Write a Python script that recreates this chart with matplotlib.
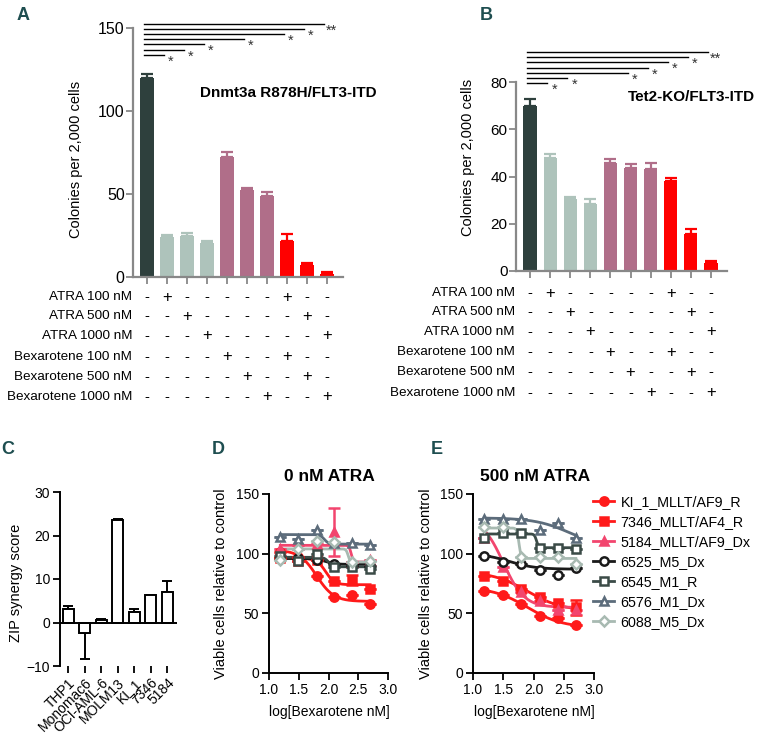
import matplotlib
matplotlib.use('Agg')
import matplotlib.pyplot as plt
import matplotlib.transforms as mtransforms
from matplotlib.lines import Line2D
import numpy as np

plt.rcParams['font.family'] = ['Liberation Sans', 'DejaVu Sans']

# ---------------------------------------------------------------------------
# DATA
# panels A and B: colony counts, 10 treatment groups
treatments = ['ATRA 100 nM', 'ATRA 500 nM', 'ATRA 1000 nM',
              'Bexarotene 100 nM', 'Bexarotene 500 nM', 'Bexarotene 1000 nM']
treat_table = [[0, 1, 0, 0, 0, 0, 0, 1, 0, 0],
               [0, 0, 1, 0, 0, 0, 0, 0, 1, 0],
               [0, 0, 0, 1, 0, 0, 0, 0, 0, 1],
               [0, 0, 0, 0, 1, 0, 0, 1, 0, 0],
               [0, 0, 0, 0, 0, 1, 0, 0, 1, 0],
               [0, 0, 0, 0, 0, 0, 1, 0, 0, 1]]
dnmt3a_mean = [120, 24, 24.5, 20.5, 72, 52.5, 48.5, 21.5, 7.5, 2]
dnmt3a_err = [2, 1.5, 2, 1, 3.5, 1, 2.5, 4.5, 1, 1]
tet2_mean = [70, 48, 30.4, 28.3, 45.8, 43.7, 43.3, 37.9, 15.8, 3.5]
tet2_err = [3, 1.5, 1, 2.3, 1.5, 1.7, 2.5, 1.5, 1.8, 0.8]
group = ['ctrl', 'atra', 'atra', 'atra', 'bex', 'bex', 'bex', 'combo', 'combo', 'combo']

# significance brackets (from bar 0 to bar "end")
sig_a_end = [9, 8, 7, 5, 3, 2, 1]
sig_a_level = [152.4, 149.4, 146.4, 143.4, 140.4, 137.0, 134.0]
sig_b_end = [9, 8, 7, 6, 5, 2, 1]
sig_b_level = [92.6, 90.5, 88.4, 86.1, 84.0, 81.7, 79.5]
sig_label = ['**', '*', '*', '*', '*', '*', '*']

# panel C: ZIP synergy score
cell_lines = ['THP1', 'Monomac6', 'OCI-AML-6', 'MOLM13', 'KI_1', '7346', '5184']
zip_score = [3.2, -2.3, 0.6, 23.5, 2.4, 6.3, 6.9]
zip_err = [0.7, 6.0, 0.2, 0.2, 0.7, 0.0, 2.6]

# panels D and E: viability vs log[Bexarotene nM]
log_bex = [1.19, 1.49, 1.80, 2.10, 2.40, 2.70]
samples = ['KI_1_MLLT/AF9_R', '7346_MLLT/AF4_R', '5184_MLLT/AF9_Dx', '6525_M5_Dx',
           '6545_M1_R', '6576_M1_Dx', '6088_M5_Dx']
via_0atra = [[101, 97, 81, 64, 65, 58],
             [96, 94, 95, 77, 78, 70],
             [104, 107, 108, 118, 93, 95],
             [96, 96, 95, 91, 90, 90],
             [98, 94, 100, 89, 89, 87],
             [114, 112, 120, 109, 109, 107],
             [95, 104, 111, 110, 93, 94]]
err_0atra = [[0, 0, 0, 0, 0, 0],
             [0, 0, 0, 0, 4, 0],
             [0, 0, 0, 20, 0, 0],
             [0, 0, 0, 0, 0, 0],
             [0, 0, 0, 0, 0, 0],
             [0, 0, 0, 0, 0, 0],
             [0, 0, 0, 0, 0, 0]]
via_500atra = [[69, 65, 58, 48, 46, 40],
               [81, 77, 70, 64, 59, 55],
               [113, 89, 68, 60, 53, 53],
               [98, 93, 91, 86, 82, 88],
               [113, 117, 117, 105, 105, 104],
               [129, 129, 129, 120, 126, 113],
               [122, 122, 97, 97, 97, 91]]
err_500atra = [[0, 0, 0, 0, 0, 0],
               [0, 0, 0, 0, 0, 6],
               [0, 0, 0, 0, 0, 0],
               [0, 0, 0, 0, 0, 0],
               [0, 0, 0, 0, 0, 0],
               [0, 0, 0, 0, 0, 0],
               [0, 0, 0, 0, 0, 0]]
# fitted 4-parameter dose response curves: top, bottom, logIC50, hill slope
fit_0atra = [[103, 60, 1.80, 3.0],
             [96, 74, 1.95, 6.0],
             [107, 93, 2.38, 25.0],
             [96, 91, 1.95, 5.0],
             [97, 89, 2.00, 12.0],
             [116, 108, 1.93, 12.0],
             [104, 93, 2.33, 25.0]]
fit_500atra = [[72, 38, 1.90, 1.5],
               [85, 52, 1.90, 1.5],
               [130, 55, 1.50, 2.5],
               [100, 87, 1.60, 2.0],
               [116.5, 105, 2.05, 25.0],
               [130, 105, 2.60, 1.5],
               [121.5, 96, 1.76, 25.0]]

# ---------------------------------------------------------------------------
# STYLE
bar_colors = {'ctrl': '#2E403D', 'atra': '#AEC3BB', 'bex': '#B06E89', 'combo': '#FF0000'}
line_colors = ['#FF1A1A', '#FF1A1A', '#F2456E', '#1A1A1A', '#3B4B47', '#5C6C7B', '#A8BAB2']
markers = ['o', 's', '^', 'o', 's', '^', 'D']
filled = [True, True, True, False, False, False, False]
teal = '#1E4E50'
axis_gray = '#888888'

W, H = 770, 737
fig = plt.figure(figsize=(W / 100, H / 100), dpi=100)


def add_ax(l, t, r, b):
    return fig.add_axes([l / W, 1 - b / H, (r - l) / W, (b - t) / H])


def colony_panel(ax, mean, err, levels, ends, ymax, yticks, label_xy, title, title_xy,
                 row_y, tick_fs):
    x = np.arange(len(mean))
    cols = [bar_colors[g] for g in group]
    ax.bar(x, mean, width=0.66, color=cols, zorder=2)
    for xi, m, e, c in zip(x, mean, err, cols):
        ax.errorbar(xi, m, yerr=[[0], [e]], fmt='none', ecolor=c, elinewidth=1.6,
                    capsize=4, capthick=1.6, zorder=1)
    ax.set_xlim(-0.7, 9.8)
    ax.set_ylim(0, ymax)
    ax.set_yticks(yticks)
    ax.set_xticks(x)
    ax.set_xticklabels([])
    for s in ['top', 'right']:
        ax.spines[s].set_visible(False)
    for s in ['left', 'bottom']:
        ax.spines[s].set_color(axis_gray)
        ax.spines[s].set_linewidth(1.6)
    ax.tick_params(axis='both', color=axis_gray, width=1.3, length=5, labelsize=tick_fs, pad=1)
    ax.set_ylabel('Colonies per 2,000 cells', fontsize=10.5)
    ax.yaxis.set_label_coords(*label_xy)
    ax.text(title_xy[0], title_xy[1], title, transform=ax.transAxes, fontsize=11,
            fontweight='bold', va='center', ha='left')
    for lev, end, lab in zip(levels, ends, sig_label):
        ax.plot([-0.15, end - 0.15], [lev, lev], color='black', lw=1.0, clip_on=False)
        ax.text(end + 0.2, lev, lab, fontsize=10.5, ha='center', va='top', color='#333333')
    # treatment table below the axis
    trans = mtransforms.blended_transform_factory(ax.transData, fig.transFigure)
    for name, row, py in zip(treatments, treat_table, row_y):
        yf = 1 - py / H
        ax.text(-0.75, yf, name, transform=trans, ha='right', va='center', fontsize=9.7)
        for xi, v in zip(x, row):
            ax.text(xi, yf, '+' if v else '-', transform=trans, ha='center', va='center',
                    fontsize=12 if v else 10.5)


ax_a = add_ax(133, 28, 343, 277)
colony_panel(ax_a, dnmt3a_mean, dnmt3a_err, sig_a_level, sig_a_end, 150, [0, 50, 100, 150],
             (-0.238, 0.474), 'Dnmt3a R878H/FLT3-ITD', (0.318, 0.739),
             [297, 316, 336, 357, 377, 397], 11.5)

ax_b = add_ax(516, 82, 727, 271)
colony_panel(ax_b, tet2_mean, tet2_err, sig_b_level, sig_b_end, 80, [0, 20, 40, 60, 80],
             (-0.194, 0.60), 'Tet2-KO/FLT3-ITD', (0.531, 0.92),
             [293, 312, 332, 352, 372, 393], 11)

# panel C
ax_c = add_ax(60, 492, 177, 666)
xc = np.arange(len(cell_lines))
ax_c.bar(xc, zip_score, width=0.68, color='white', edgecolor='black', linewidth=1.4, zorder=2)
low = [e if v < 0 else 0 for v, e in zip(zip_score, zip_err)]
up = [e if v >= 0 else 0 for v, e in zip(zip_score, zip_err)]
ax_c.errorbar(xc, zip_score, yerr=[low, up], fmt='none', ecolor='black', elinewidth=1.4,
              capsize=3.5, capthick=1.4, zorder=1)
ax_c.axhline(0, color='black', lw=1.4, zorder=3)
ax_c.set_xlim(-0.5, 6.6)
ax_c.set_ylim(-10, 30)
ax_c.set_yticks([-10, 0, 10, 20, 30])
ax_c.set_xticks(xc)
ax_c.set_xticklabels(cell_lines, rotation=45, ha='right', rotation_mode='anchor', fontsize=10)
for s in ['top', 'right', 'bottom']:
    ax_c.spines[s].set_visible(False)
ax_c.spines['left'].set_linewidth(1.4)
ax_c.tick_params(axis='both', width=1.3, length=5, labelsize=10, pad=2)
ax_c.set_ylabel('ZIP synergy score', fontsize=10.5)
ax_c.yaxis.set_label_coords(-0.316, 0.48)


# panels D and E
def four_pl(x, top, bottom, logic50, hill):
    return bottom + (top - bottom) / (1 + 10 ** ((x - logic50) * hill))


def dose_panel(ax, vals, errs, fits, title, label_x):
    xs = np.linspace(log_bex[0], log_bex[-1], 300)
    order = [6, 5, 4, 3, 2, 1, 0]
    for i in order:
        c = line_colors[i]
        ax.plot(xs, four_pl(xs, *fits[i]), color=c, lw=2.0, zorder=2 + i * 0.01)
        ax.errorbar(log_bex, vals[i], yerr=errs[i], fmt='none', ecolor=c, elinewidth=1.8,
                    capsize=4, capthick=1.8, zorder=2.5)
        ax.plot(log_bex, vals[i], ls='none', marker=markers[i],
                ms=6 if markers[i] != 'D' else 5.5, mec=c, mew=1.8,
                mfc=c if filled[i] else 'white', zorder=3 + i * 0.01)
    ax.set_xlim(1.0, 3.0)
    ax.set_ylim(0, 150)
    ax.set_xticks([1.0, 1.5, 2.0, 2.5, 3.0])
    ax.set_yticks([0, 50, 100, 150])
    for s in ['top', 'right']:
        ax.spines[s].set_visible(False)
    for s in ['left', 'bottom']:
        ax.spines[s].set_linewidth(1.4)
    ax.tick_params(axis='both', width=1.3, length=5, labelsize=10, pad=2)
    ax.set_ylabel('Viable cells relative to control', fontsize=10.5)
    ax.yaxis.set_label_coords(label_x, 0.5)
    ax.set_xlabel('log[Bexarotene nM]', fontsize=10)
    ax.xaxis.set_label_coords(0.51, -0.179)
    ax.text(0.51, 1.10, title, transform=ax.transAxes, ha='center', va='center',
            fontsize=12.5, fontweight='bold')


ax_d = add_ax(269, 494, 388, 673)
dose_panel(ax_d, via_0atra, err_0atra, fit_0atra, '0 nM ATRA', -0.345)
ax_e = add_ax(473, 494, 594, 673)
dose_panel(ax_e, via_500atra, err_500atra, fit_500atra, '500 nM ATRA', -0.33)

handles = [Line2D([], [], color=line_colors[i], lw=2.0, marker=markers[i],
                  ms=6 if markers[i] != 'D' else 5.5, mec=line_colors[i], mew=1.8,
                  mfc=line_colors[i] if filled[i] else 'white') for i in range(len(samples))]
ax_e.legend(handles, samples, loc='upper left', bbox_to_anchor=(0.99, 0.995), frameon=False,
            fontsize=10.3, handlelength=1.5, handletextpad=0.45, labelspacing=0.42,
            borderaxespad=0, borderpad=0)

# panel letters
for letter, (px, py) in zip('ABCDE', [(23, 15), (486, 15), (8, 449), (218, 449), (437, 449)]):
    fig.text(px / W, 1 - py / H, letter, ha='center', va='center', fontsize=13,
             fontweight='bold', color=teal,
             family=['Liberation Sans Narrow', 'Liberation Sans'])

fig.savefig('out.png', dpi=100)
